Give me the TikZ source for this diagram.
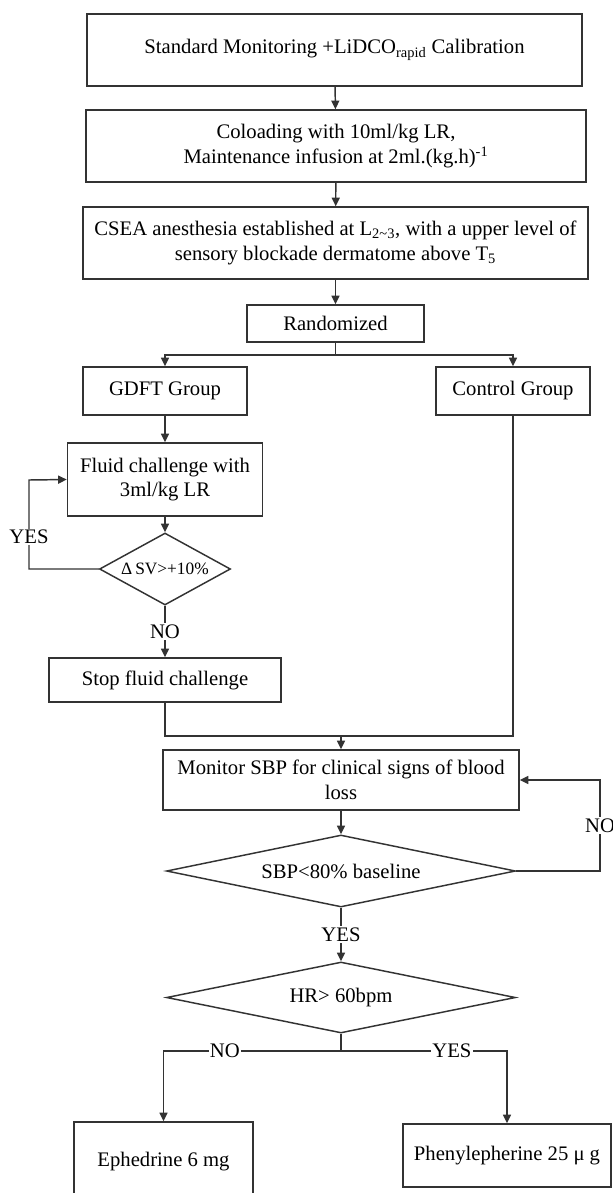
\documentclass[tikz,border=0pt]{standalone}
\usepackage{fontspec}
\setmainfont{Liberation Serif}
\usepackage{tikz}
\usetikzlibrary{calc,positioning,arrows.meta,shapes.geometric}

\begin{document}
\begin{tikzpicture}[x=0.75pt, y=-0.75pt,
		box/.style={draw=black!80, line width=1.1pt, rectangle, align=center, inner sep=2pt,
			font=\fontsize{15.5}{18.6}\selectfont},
		test/.style={draw=black!80, line width=1.1pt, diamond, inner sep=0pt,
			font=\fontsize{15.5}{18.6}\selectfont},
		lab/.style={fill=white, inner sep=1pt, font=\fontsize{15.5}{18.6}\selectfont},
		link/.style={draw=black!80, line width=1.1pt},
		>={Triangle[length=6.5pt, width=6pt]}]
		
		\useasboundingbox (0,0) rectangle (613,1193);
		
		%------------------------------------------------
		% Preparation
		%------------------------------------------------
		\node [box, minimum width=371.25pt, minimum height=54pt] (std) at (334.5, 50)
		{Standard Monitoring +LiDCO\textsubscript{rapid} Calibration};
		\node [box, minimum width=375pt, minimum height=54pt] (colo) at (336, 146)
		{Coloading with 10ml/kg LR,\\Maintenance infusion at 2ml.(kg.h)\textsuperscript{-1}};
		\node [box, minimum width=378.75pt, minimum height=54pt] (csea) at (335.5, 243)
		{CSEA anesthesia established at L\textsubscript{2\textasciitilde3}, with a upper level of\\sensory blockade dermatome above T\textsubscript{5}};
		\node [box, minimum width=132.75pt, minimum height=27.75pt] (rand) at (335.5, 323.5) {Randomized};
		
		%------------------------------------------------
		% Groups
		%------------------------------------------------
		\node [box, minimum width=123pt, minimum height=36pt] (gdft) at (165, 391) {GDFT Group};
		\node [box, minimum width=115.5pt, minimum height=36pt] (ctrl) at (513, 391) {Control Group};
		
		\node [box, minimum width=146.25pt, minimum height=54.75pt] (fluid) at (165, 479.5)
		{Fluid challenge with\\3ml/kg LR};
		\node [test, aspect=1.8, minimum width=98.25pt, minimum height=54pt,
		font=\fontsize{13}{15}\selectfont] (dsv) at (165, 569) {Δ\,SV>+10\%};
		\node [box, minimum width=174pt, minimum height=33pt] (stop) at (165, 680) {Stop fluid challenge};
		
		%------------------------------------------------
		% Monitoring and treatment
		%------------------------------------------------
		\node [box, minimum width=267pt, minimum height=45pt] (mon) at (341, 780)
		{Monitor SBP for clinical signs of blood\\loss};
		\node [test, aspect=4.85, minimum width=261.75pt, minimum height=54pt] (sbp) at (341, 871) {SBP<80\% baseline};
		\node [test, aspect=4.85, minimum width=261.75pt, minimum height=53.25pt] (hr) at (341, 997.5) {HR> 60bpm};
		
		\node [box, minimum width=134.25pt, minimum height=60pt] (eph) at (163.5, 1162) {Ephedrine 6 mg};
		\node [box, minimum width=156pt, minimum height=47.25pt] (phen) at (507, 1155.5) {Phenylepherine 25 μ g};
		
		%------------------------------------------------
		% Turning points
		%------------------------------------------------
		\coordinate (split) at (335.5, 355);
		\coordinate (yesturn) at (29, 480);
		\coordinate (merge) at (341, 736);
		\coordinate (noturn) at (600, 780);
		\coordinate (hrsplit) at (341, 1051);
		
		%------------------------------------------------
		% Connectors
		%------------------------------------------------
		\draw [link, ->] (std) -- (colo);
		\draw [link, ->] (colo) -- (csea);
		\draw [link, ->] (csea) -- (rand);
		\draw [link] (rand) -- (split);
		\draw [link, ->] (split) -| (gdft);
		\draw [link, ->] (split) -| (ctrl);
		
		\draw [link, ->] (gdft) -- (fluid);
		\draw [link, ->] (fluid) -- (dsv);
		\draw [link, ->] (dsv.west) -| node [lab, pos=0.68] {YES} (yesturn) -- (fluid.west);
		\draw [link, ->] (dsv) -- node [lab] {NO} (stop);
		
		\draw [link] (stop) |- (merge);
		\draw [link] (ctrl) |- (merge);
		\draw [link, ->] (merge) -- (mon);
		
		\draw [link, ->] (mon) -- (sbp);
		\draw [link, ->] (sbp.east) -| node [lab, pos=0.75] {NO} (noturn) -- (mon.east);
		\draw [link, ->] (sbp) -- node [lab] {YES} (hr);
		
		\draw [link] (hr) -- (hrsplit);
		\draw [link, ->] (hrsplit) -| node [lab, pos=0.327] {NO} (eph);
		\draw [link, ->] (hrsplit) -| node [lab, pos=0.334] {YES} (phen);
		
	\end{tikzpicture}
\end{document}
